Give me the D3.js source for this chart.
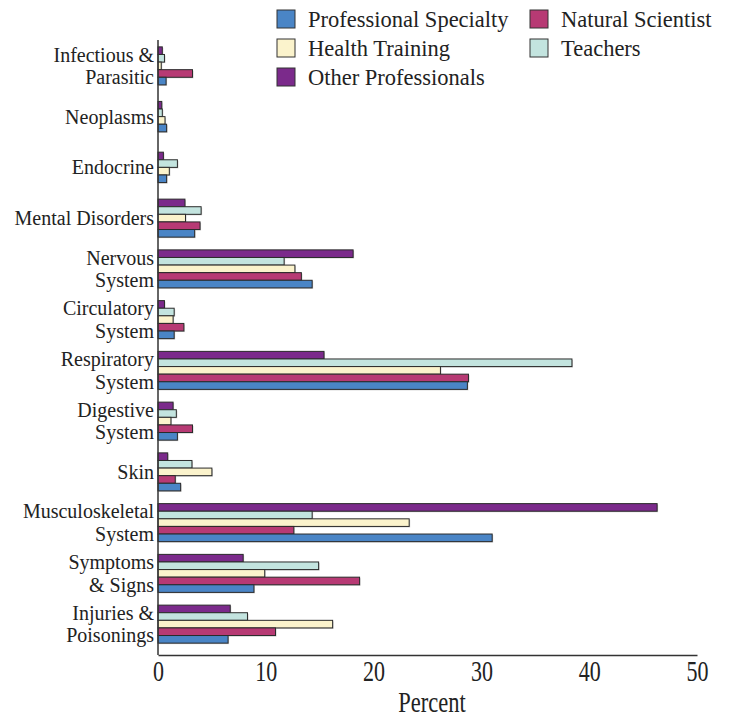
<!DOCTYPE html>
<html>
<head>
<meta charset="utf-8">
<script src="https://cdn.jsdelivr.net/npm/d3@7"></script>
<style>
  html, body { margin: 0; padding: 0; background: #fff; }
  svg { display: block; }
  text { font-family: "Liberation Serif", "Times New Roman", serif; fill: #222; }
</style>
</head>
<body>
<svg id="chart" width="729" height="719"></svg>
<script>
// ---- data ----
const categories = [
  "Infectious &\nParasitic", "Neoplasms", "Endocrine", "Mental Disorders",
  "Nervous\nSystem", "Circulatory\nSystem", "Respiratory\nSystem", "Digestive\nSystem",
  "Skin", "Musculoskeletal\nSystem", "Symptoms\n& Signs", "Injuries &\nPoisonings"
];
const seriesNames = ["Professional Specialty", "Natural Scientist", "Health Training", "Teachers", "Other Professionals"];
const seriesColors = ["#4a85c6", "#b73a74", "#fbf3cc", "#c3e4df", "#7b2a8b"];
const professionalSpecialty = [0.75, 0.8, 0.8, 3.4, 14.3, 1.5, 28.7, 1.8, 2.1, 31.0, 8.9, 6.5];
const naturalScientist      = [3.2, null, null, 3.9, 13.3, 2.4, 28.8, 3.2, 1.6, 12.6, 18.7, 10.9];
const healthTraining        = [0.3, 0.65, 1.05, 2.55, 12.7, 1.4, 26.2, 1.2, 5.0, 23.3, 9.9, 16.2];
const teachers              = [0.6, 0.4, 1.8, 4.0, 11.7, 1.5, 38.4, 1.7, 3.15, 14.3, 14.9, 8.3];
const otherProfessionals    = [0.4, 0.35, 0.5, 2.5, 18.1, 0.6, 15.4, 1.4, 0.9, 46.3, 7.9, 6.7];
const xTicks = [0, 10, 20, 30, 40, 50];
const xTitle = "Percent";

const seriesValues = [professionalSpecialty, naturalScientist, healthTraining, teachers, otherProfessionals];

// ---- layout ----
const svg = d3.select("#chart");
const x = d3.scaleLinear().domain([0, 50]).range([158, 697]);
const y = d3.scaleBand().domain(categories).range([40.5, 649.5]).padding(0);
const barH = 7.6;

const g = svg.append("g");

// bars
categories.forEach((cat, ci) => {
  const present = seriesNames.map((s, si) => ({ s, si, v: seriesValues[si][ci] }))
    .filter(d => d.v !== null).reverse();
  const cy = y(cat) + y.bandwidth() / 2;
  const inner = d3.scaleBand().domain(present.map(d => d.s))
    .range([cy - present.length * barH / 2, cy + present.length * barH / 2]);
  const grp = g.append("g");
  grp.selectAll("rect.shadow").data(present).join("rect")
    .attr("class", "shadow")
    .attr("x", x(0) + 1)
    .attr("y", d => inner(d.s) + 1)
    .attr("width", d => x(d.v) - x(0))
    .attr("height", inner.bandwidth())
    .attr("fill", "#999").attr("opacity", 0.5);
  grp.selectAll("rect.bar").data(present).join("rect")
    .attr("class", "bar")
    .attr("x", x(0))
    .attr("y", d => inner(d.s))
    .attr("width", d => x(d.v) - x(0))
    .attr("height", inner.bandwidth())
    .attr("fill", d => seriesColors[d.si])
    .attr("stroke", "#2a2a2a").attr("stroke-width", 1);
});

// category labels
const labels = svg.append("g");
categories.forEach(cat => {
  const lines = cat.split("\n");
  const cy = y(cat) + y.bandwidth() / 2;
  const lh = 22.3;
  lines.forEach((ln, i) => {
    const by = cy + (i - (lines.length - 1) / 2) * lh + 7;
    labels.append("text")
      .attr("text-anchor", "end")
      .attr("font-size", 20)
      .attr("x", 154).attr("y", by)
      .text(ln);
  });
});

// y axis line
svg.append("line")
  .attr("x1", x(0)).attr("x2", x(0))
  .attr("y1", 40).attr("y2", 655)
  .attr("stroke", "#333").attr("stroke-width", 1.5);

// x axis
const xAxis = svg.append("g")
  .attr("transform", "translate(0,655)")
  .call(d3.axisBottom(x).tickValues(xTicks).tickSizeInner(0).tickSizeOuter(0).tickPadding(6));
xAxis.select(".domain").attr("stroke", "#333").attr("stroke-width", 1.5);
xAxis.selectAll("text")
  .attr("y", null).attr("dy", null)
  .attr("transform", "translate(0,26) scale(1,1.35)")
  .attr("font-size", 22)
  .attr("font-family", "Liberation Serif, Times New Roman, serif")
  .attr("fill", "#222");

svg.append("text")
  .attr("transform", "translate(432,712) scale(1,1.3)")
  .attr("text-anchor", "middle")
  .attr("font-size", 22.5)
  .text(xTitle);

// legend
const legend = svg.append("g");
const colX = [277, 530];
const rowY = [10, 39, 68];
seriesNames.forEach((name, i) => {
  const col = i % 2, row = Math.floor(i / 2);
  legend.append("rect")
    .attr("x", colX[col]).attr("y", rowY[row])
    .attr("width", 18).attr("height", 18)
    .attr("fill", seriesColors[i])
    .attr("stroke", "#333").attr("stroke-width", 1);
  legend.append("text")
    .attr("x", colX[col] + 31).attr("y", rowY[row] + 17)
    .attr("font-size", 22.5)
    .text(name);
});
</script>
</body>
</html>
